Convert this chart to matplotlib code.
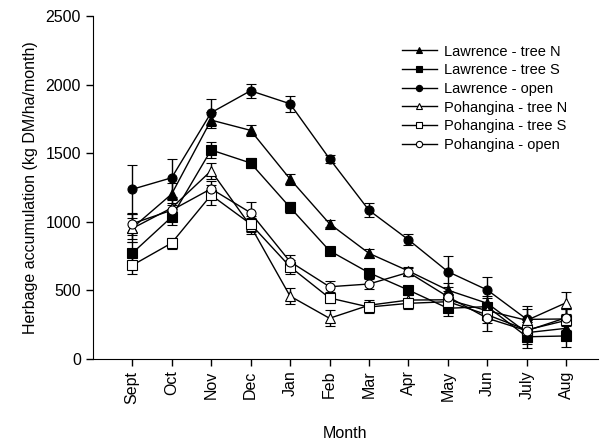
import matplotlib
matplotlib.use('Agg')
import matplotlib.pyplot as plt
from matplotlib.lines import Line2D

plt.rcParams['font.family'] = ['Liberation Sans', 'DejaVu Sans']

# Месяцы
months = ['Sept', 'Oct', 'Nov', 'Dec', 'Jan', 'Feb', 'Mar', 'Apr', 'May', 'Jun', 'July', 'Aug']

# Средние значения (kg DM/ha/month)
law_tree_n = [953, 1201, 1741, 1666, 1311, 985, 769, 640, 500, 404, 190, 222]
law_tree_s = [769, 1034, 1523, 1428, 1104, 788, 627, 501, 368, 380, 160, 166]
law_open = [1236, 1320, 1795, 1955, 1860, 1459, 1083, 868, 635, 501, 287, 290]
poh_tree_n = [950, 1100, 1371, 968, 457, 295, 390, 428, 430, 350, 280, 409]
poh_tree_s = [681, 844, 1194, 983, 671, 443, 377, 404, 416, 320, 210, 280]
poh_open = [985, 1083, 1240, 1065, 708, 525, 545, 630, 452, 295, 204, 300]

# Стандартные ошибки
law_tree_n_err = [100, 80, 60, 40, 40, 25, 35, 30, 50, 50, 80, 80]
law_tree_s_err = [80, 60, 60, 40, 40, 20, 20, 20, 60, 60, 80, 80]
law_open_err = [180, 140, 100, 50, 60, 30, 50, 40, 115, 97, 100, 80]
poh_tree_n_err = [80, 60, 60, 60, 60, 60, 40, 40, 40, 60, 80, 80]
poh_tree_s_err = [60, 40, 70, 60, 50, 40, 40, 40, 40, 60, 60, 80]
poh_open_err = [80, 50, 60, 80, 50, 40, 40, 30, 40, 90, 80, 60]

series = [
    ('Lawrence - tree N', law_tree_n, law_tree_n_err, '^', 'black'),
    ('Lawrence - tree S', law_tree_s, law_tree_s_err, 's', 'black'),
    ('Lawrence - open', law_open, law_open_err, 'o', 'black'),
    ('Pohangina - tree N', poh_tree_n, poh_tree_n_err, '^', 'white'),
    ('Pohangina - tree S', poh_tree_s, poh_tree_s_err, 's', 'white'),
    ('Pohangina - open', poh_open, poh_open_err, 'o', 'white'),
]

fig = plt.figure(figsize=(6, 4.41), dpi=100)
ax = fig.add_axes([0.1545, 0.1866, 0.842, 0.777])

x = list(range(len(months)))
handles = []
for label, vals, errs, mk, fc in series:
    ax.errorbar(x, vals, yerr=errs, color='black', lw=1, marker=mk, markersize=6.5,
                markerfacecolor=fc, markeredgecolor='black', markeredgewidth=0.8,
                capsize=3.5, capthick=1, elinewidth=1)
    handles.append(Line2D([], [], color='black', lw=1, marker=mk, markersize=4.5,
                          markerfacecolor=fc, markeredgecolor='black', markeredgewidth=0.8))

ax.set_xlim(-1, 11.8)
ax.set_ylim(0, 2500)
ax.set_yticks([0, 500, 1000, 1500, 2000, 2500])
ax.set_xticks(x)
ax.set_xticklabels(months, rotation=90, fontsize=11.5)
ax.tick_params(axis='y', labelsize=11.5, direction='out', length=5, width=1)
ax.tick_params(axis='x', direction='out', length=5, width=1)
ax.spines['top'].set_visible(False)
ax.spines['right'].set_visible(False)
ax.set_xlabel('Month', fontsize=11.5, labelpad=16)
ax.set_ylabel('Herbage accumulation (kg DM/ha/month)', fontsize=11.5, labelpad=5)

ax.legend(handles, [s[0] for s in series], loc='upper right', bbox_to_anchor=(0.965, 0.955),
          frameon=False, fontsize=10.5, handlelength=2.4, handletextpad=0.5, labelspacing=0.32)

fig.savefig('out.png', dpi=100)
plt.close(fig)
